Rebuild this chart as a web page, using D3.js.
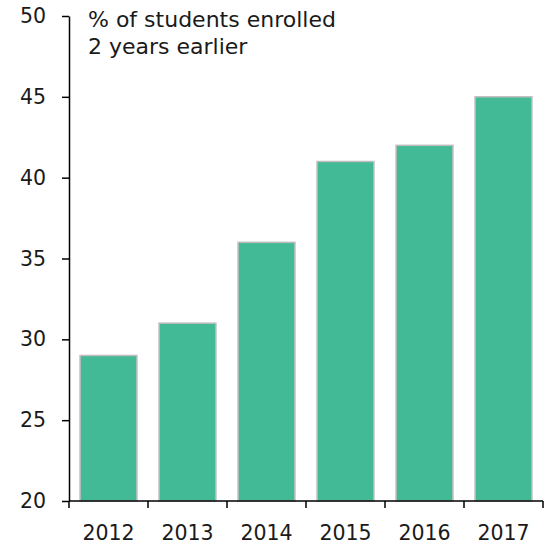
<!DOCTYPE html>
<html><head><meta charset="utf-8">
<script src="https://cdn.jsdelivr.net/npm/d3@7"></script>
<style>body{margin:0;background:#fff}text{font-family:"DejaVu Sans",sans-serif;fill:#1a1a1a}</style>
</head><body>
<svg id="c" width="550" height="546"></svg>
<script>
const years = ["2012","2013","2014","2015","2016","2017"];
const values = [29, 31, 36, 41, 42, 45];
const yTicks = [20, 25, 30, 35, 40, 45, 50];
const titleLines = ["% of students enrolled", "2 years earlier"];

const FONT = '"DejaVu Sans",sans-serif';
const svg = d3.select("#c");
const m = {left: 69, right: 543, top: 16, bottom: 501};
const x = d3.scaleBand().domain(years).range([m.left, m.right]).paddingInner(0.28).paddingOuter(0.14);
const y = d3.scaleLinear().domain([20, 50]).range([m.bottom, m.top]);

svg.selectAll("rect.bar").data(years).enter().append("rect")
  .attr("class","bar")
  .attr("x", d => x(d))
  .attr("width", x.bandwidth())
  .attr("y", (d,i) => y(values[i]))
  .attr("height", (d,i) => y(20) - y(values[i]))
  .attr("fill", "#43BA96")
  .attr("stroke", "#bdbdbd")
  .attr("stroke-width", 1.5);

// y axis
const ya = svg.append("g").attr("transform", `translate(${m.left},0)`)
  .call(d3.axisLeft(y).tickValues(yTicks).tickSize(7).tickPadding(16).tickSizeOuter(0));
ya.select(".domain").attr("stroke","#000").attr("stroke-width",1.5);
ya.selectAll(".tick line").attr("stroke","#000").attr("stroke-width",1.5);
ya.selectAll(".tick text").attr("font-size",20.5).attr("font-family",FONT).attr("fill","#1a1a1a");

// x axis line and boundary ticks
const step = x.step();
const bounds = [m.left].concat(years.map(d => x(d) + x.bandwidth() + (step - x.bandwidth())/2));
bounds[bounds.length-1] = m.right;
svg.append("line").attr("x1", m.left).attr("x2", m.right).attr("y1", m.bottom).attr("y2", m.bottom)
  .attr("stroke","#000").attr("stroke-width",1.5);
svg.selectAll("line.xt").data(bounds).enter().append("line")
  .attr("class","xt").attr("x1", d=>d).attr("x2", d=>d).attr("y1", m.bottom).attr("y2", m.bottom+7)
  .attr("stroke","#000").attr("stroke-width",1.5);
svg.selectAll("text.xl").data(years).enter().append("text")
  .attr("class","xl").attr("x", d => x(d) + x.bandwidth()/2).attr("y", 540)
  .attr("text-anchor","middle").attr("font-size",20.5).text(d => d);

// title
svg.append("text").attr("x", 88).attr("y", 0).attr("font-size",22)
  .selectAll("tspan").data(titleLines).enter().append("tspan")
  .attr("x", 88).attr("y", (d,i) => 27 + i*27).text(d => d);
</script>
</body></html>
